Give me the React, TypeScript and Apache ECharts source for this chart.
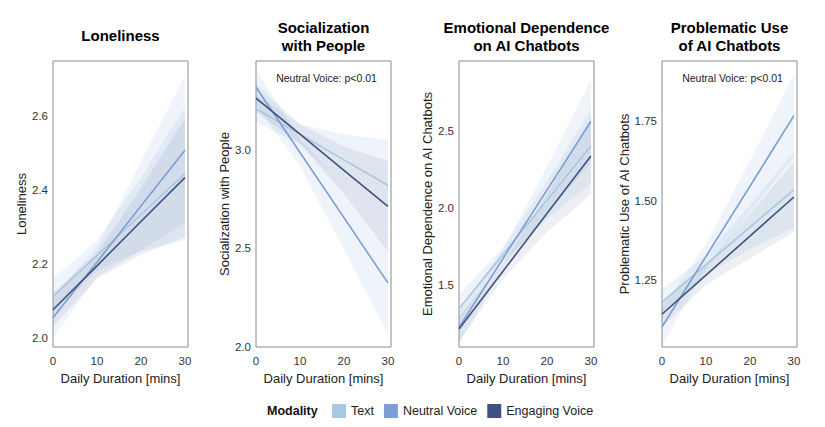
import React, { useEffect, useRef } from 'react';
import * as echarts from 'echarts';

const FONT = 'Liberation Sans, Arial, Helvetica, sans-serif';

const durations = [0, 10, 20, 30];
const modalities = ['Text', 'Neutral Voice', 'Engaging Voice'];
const lineColors = ['#a9c8df', '#7b9fd5', '#3e5181'];
const bandColors = ['rgba(168,200,224,0.2)', 'rgba(122,159,214,0.12)', 'rgba(62,81,129,0.09)'];

// rows: Text, Neutral Voice, Engaging Voice; columns: durations
const lonelinessFit = [
  [2.112, 2.223, 2.334, 2.445],
  [2.054, 2.205, 2.357, 2.508],
  [2.076, 2.195, 2.315, 2.434],
];
const lonelinessLow = [
  [2.06, 2.183, 2.234, 2.265],
  [2.0, 2.165, 2.237, 2.31],
  [2.031, 2.16, 2.225, 2.274],
];
const lonelinessHigh = [
  [2.16, 2.263, 2.434, 2.625],
  [2.11, 2.245, 2.477, 2.71],
  [2.121, 2.23, 2.405, 2.594],
];

const socialFit = [
  [3.208, 3.079, 2.949, 2.82],
  [3.317, 2.986, 2.656, 2.325],
  [3.262, 3.079, 2.896, 2.713],
];
const socialLow = [
  [3.138, 3.029, 2.819, 2.59],
  [3.227, 2.916, 2.496, 2.065],
  [3.19, 3.029, 2.776, 2.483],
];
const socialHigh = [
  [3.278, 3.129, 3.079, 3.05],
  [3.407, 3.056, 2.816, 2.585],
  [3.33, 3.129, 3.016, 2.943],
];

const dependenceFit = [
  [1.348, 1.699, 2.049, 2.4],
  [1.228, 1.672, 2.115, 2.559],
  [1.217, 1.59, 1.963, 2.336],
];
const dependenceLow = [
  [1.258, 1.649, 1.929, 2.16],
  [1.118, 1.612, 1.965, 2.289],
  [1.137, 1.54, 1.843, 2.086],
];
const dependenceHigh = [
  [1.438, 1.749, 2.169, 2.64],
  [1.338, 1.732, 2.265, 2.829],
  [1.297, 1.64, 2.083, 2.586],
];

const problematicFit = [
  [1.181, 1.299, 1.417, 1.535],
  [1.103, 1.325, 1.546, 1.768],
  [1.143, 1.266, 1.389, 1.512],
];
const problematicLow = [
  [1.141, 1.269, 1.347, 1.415],
  [1.043, 1.285, 1.466, 1.638],
  [1.103, 1.236, 1.319, 1.402],
];
const problematicHigh = [
  [1.221, 1.329, 1.487, 1.655],
  [1.163, 1.365, 1.626, 1.898],
  [1.183, 1.296, 1.459, 1.622],
];

const panels = [
  {
    title: 'Loneliness', yName: 'Loneliness', note: '',
    fit: lonelinessFit, low: lonelinessLow, high: lonelinessHigh,
    yMin: 1.975, yMax: 2.75, step: 0.025, labelStep: 0.2, digits: 1,
    left: 53, nameGap: 24,
  },
  {
    title: 'Socialization\nwith People', yName: 'Socialization with People', note: 'Neutral Voice: p<0.01',
    fit: socialFit, low: socialLow, high: socialHigh,
    yMin: 2.0, yMax: 3.45, step: 0.05, labelStep: 0.5, digits: 1,
    left: 256, nameGap: 22,
  },
  {
    title: 'Emotional Dependence\non AI Chatbots', yName: 'Emotional Dependence on AI Chatbots', note: '',
    fit: dependenceFit, low: dependenceLow, high: dependenceHigh,
    yMin: 1.1, yMax: 2.95, step: 0.05, labelStep: 0.5, digits: 1,
    left: 459, nameGap: 23,
  },
  {
    title: 'Problematic Use\nof AI Chatbots', yName: 'Problematic Use of AI Chatbots', note: 'Neutral Voice: p<0.01',
    fit: problematicFit, low: problematicLow, high: problematicHigh,
    yMin: 1.04, yMax: 1.94, step: 0.01, labelStep: 0.25, digits: 2,
    left: 662, nameGap: 28,
  },
];

const GRID_TOP = 61;
const GRID_W = 135;
const GRID_H = 286;

const App = (): JSX.Element => {
  const divEL = useRef(null);

  useEffect(() => {
    const instance = echarts.init(divEL.current as any, null, { renderer: 'svg' });

    const grid: any[] = [];
    const xAxis: any[] = [];
    const yAxis: any[] = [];
    const series: any[] = [];
    const graphic: any[] = [];

    panels.forEach((p, pi) => {
      grid.push({
        left: p.left, top: GRID_TOP, width: GRID_W, height: GRID_H,
        show: true, borderColor: '#8c8c8c', borderWidth: 1, backgroundColor: '#ffffff',
      });
      xAxis.push({
        type: 'value', gridIndex: pi, min: 0, max: 30.7, interval: 10,
        name: 'Daily Duration [mins]', nameLocation: 'middle', nameGap: 20,
        nameTextStyle: { fontSize: 13, color: '#222', fontFamily: FONT },
        axisLine: { show: false }, axisTick: { show: false }, splitLine: { show: false },
        axisLabel: {
          margin: 8, fontSize: 11.5, color: '#333', fontFamily: FONT,
          formatter: (v: number) => (v % 10 === 0 ? String(v) : ''),
        },
      });
      yAxis.push({
        type: 'value', gridIndex: pi, min: p.yMin, max: p.yMax, interval: p.step,
        name: p.yName, nameLocation: 'middle', nameGap: p.nameGap,
        nameTextStyle: { fontSize: 13, color: '#222', fontFamily: FONT },
        axisLine: { show: false }, axisTick: { show: false }, splitLine: { show: false },
        axisLabel: {
          margin: 5, fontSize: 11.5, color: '#333', fontFamily: FONT,
          formatter: (v: number) => {
            const k = v / p.labelStep;
            return Math.abs(k - Math.round(k)) < 1e-6 ? v.toFixed(p.digits) : '';
          },
        },
      });

      modalities.forEach((m, mi) => {
        series.push({
          type: 'custom', xAxisIndex: pi, yAxisIndex: pi, silent: true, z: 1,
          data: [[0, p.yMin]],
          renderItem: (_params: any, api: any) => {
            const upper = durations.map((d, i) => api.coord([d, p.high[mi][i]]));
            const lower = durations.map((d, i) => api.coord([d, p.low[mi][i]])).reverse();
            return {
              type: 'polygon',
              shape: { points: upper.concat(lower) },
              style: { fill: bandColors[mi] },
            };
          },
        });
      });
      modalities.forEach((m, mi) => {
        series.push({
          type: 'line', name: m, xAxisIndex: pi, yAxisIndex: pi, z: 3,
          data: durations.map((d, i) => [d, p.fit[mi][i]]),
          symbol: 'none', showSymbol: false, silent: true,
          lineStyle: { color: lineColors[mi], width: 1.6 },
          itemStyle: { color: lineColors[mi] },
        });
      });

      const cx = p.left + GRID_W / 2;
      graphic.push({
        type: 'text', x: cx, y: p.title.includes('\n') ? 36 : 35,
        style: {
          text: p.title, align: 'center', verticalAlign: 'middle',
          textAlign: 'center', textVerticalAlign: 'middle',
          font: `bold 15px ${FONT}`, lineHeight: 18, fill: '#000',
        },
      });
      if (p.note) {
        graphic.push({
          type: 'text', x: cx + 3, y: 78, z: 10,
          style: {
            text: p.note, align: 'center', verticalAlign: 'middle',
            textAlign: 'center', textVerticalAlign: 'middle',
            font: `10.5px ${FONT}`, fill: '#222',
          },
        });
      }
    });

    graphic.push({
      type: 'text', x: 267, y: 411,
      style: {
        text: 'Modality', align: 'left', verticalAlign: 'middle',
        textAlign: 'left', textVerticalAlign: 'middle',
        font: `bold 12.5px ${FONT}`, fill: '#111',
      },
    });

    const option: any = {
      animation: false,
      backgroundColor: '#ffffff',
      grid,
      xAxis,
      yAxis,
      series,
      graphic,
      legend: {
        data: modalities, left: 332, top: 404, padding: 0, icon: 'rect',
        itemWidth: 14, itemHeight: 14, itemGap: 10,
        textStyle: { fontSize: 12.5, color: '#222', fontFamily: FONT },
        selectedMode: false,
      },
    };
    instance.setOption(option);

    return () => {
      instance.dispose();
    };
  }, []);

  return (
    <div
      ref={divEL}
      style={{ position: 'absolute', left: 0, top: 0, width: 825, height: 427 }}
    ></div>
  );
};

export default App;
